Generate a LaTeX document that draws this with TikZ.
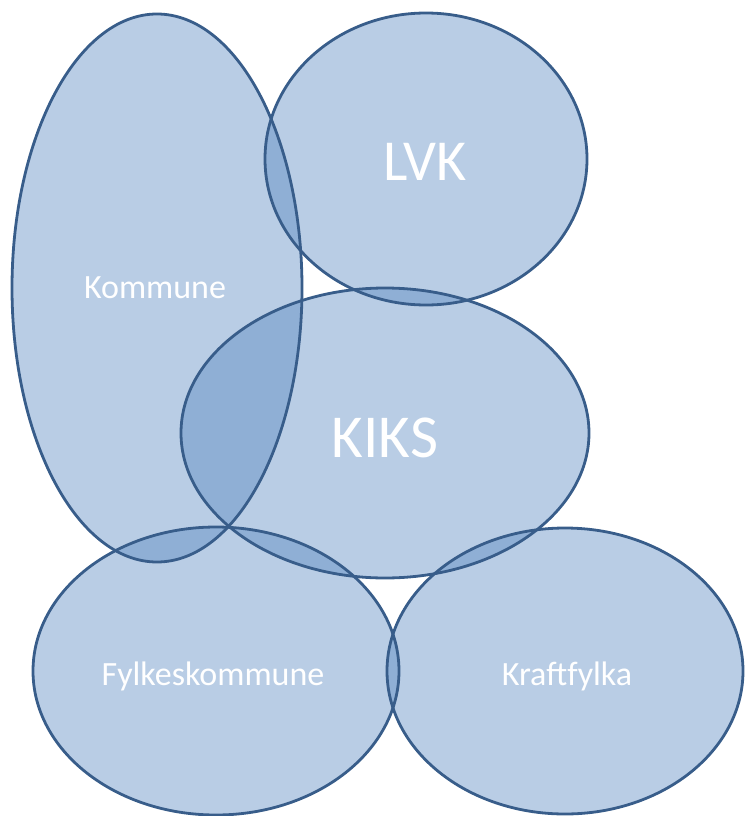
\documentclass[tikz,border=0pt]{standalone}
\usepackage{fontspec}
\setmainfont{Carlito}
\definecolor{blobfill}{RGB}{80,130,190}
\definecolor{blobline}{RGB}{56,93,138}
\tikzset{
  blob/.style={fill=blobfill, fill opacity=0.4},
  rim/.style={draw=blobline, line width=2.8pt},
  biglabel/.style={text=white, font=\fontsize{58}{60}\selectfont, anchor=base},
  smalllabel/.style={text=white, font=\fontsize{34}{36}\selectfont, anchor=base}
}
\begin{document}
\begin{tikzpicture}[x=1pt,y=-1pt]
\useasboundingbox (0,0) rectangle (744,816);
% fills
\fill[blob] (157,288) ellipse [x radius=145, y radius=274];
\fill[blob] (426,159) ellipse [x radius=161, y radius=146];
\fill[blob] (385,433) ellipse [x radius=204, y radius=145];
\fill[blob] (216,671) ellipse [x radius=183, y radius=144];
\fill[blob] (565,671) ellipse [x radius=178, y radius=143];
% outlines
\draw[rim] (157,288) ellipse [x radius=145, y radius=274];
\draw[rim] (426,159) ellipse [x radius=161, y radius=146];
\draw[rim] (385,433) ellipse [x radius=204, y radius=145];
\draw[rim] (216,671) ellipse [x radius=183, y radius=144];
\draw[rim] (565,671) ellipse [x radius=178, y radius=143];
% labels
\node[biglabel] (lvk) at (425,180) {LVK};
\node[biglabel, font=\fontsize{61}{63}\selectfont] (kiks) at (385,457) {KIKS};
\node[smalllabel] (kommune) at (155,298) {Kommune};
\node[smalllabel] (fylke) at (213,685) {Fylkeskommune};
\node[smalllabel] (kraft) at (567,685) {Kraftfylka};
\end{tikzpicture}
\end{document}
